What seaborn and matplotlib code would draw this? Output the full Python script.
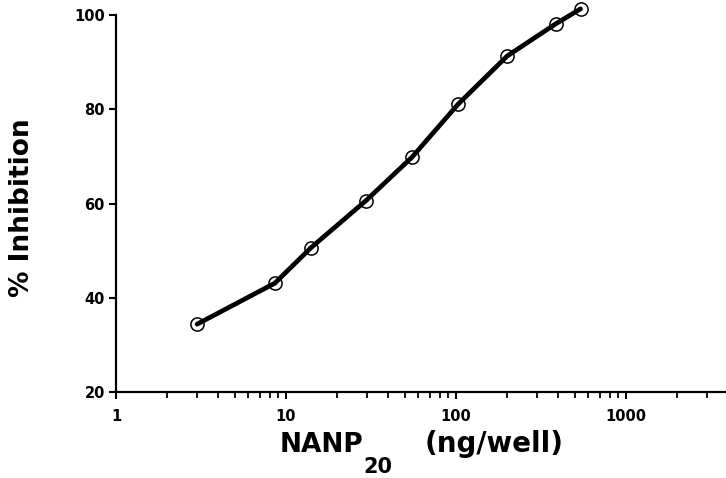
import matplotlib
matplotlib.use("Agg")
import pandas as pd
import matplotlib.pyplot as plt
import seaborn as sns
from matplotlib.ticker import FixedLocator, FixedFormatter, LogLocator, NullFormatter

# data
dose = [3.0, 8.6, 14, 29.5, 55, 103, 200, 385, 540]          # ng/well
inhibition = [34.4, 43.1, 50.6, 60.6, 69.8, 81.1, 91.3, 98.1, 101.3]  # %
x_ticks = [1, 10, 100, 1000]
x_ticklabels = ["1", "10", "100", "1000"]
y_ticks = [20, 40, 60, 80, 100]

df = pd.DataFrame({"dose": dose, "inhibition": inhibition})

sns.set_theme(style="ticks")
plt.rcParams["font.family"] = ["DejaVu Sans"]

W, H = 726, 478
fig = plt.figure(figsize=(W / 100, H / 100), dpi=100)
ax = fig.add_axes([0.1598, 0.1799, 0.8388, 0.7887])

# open circles underneath, heavy line on top
sns.scatterplot(data=df, x="dose", y="inhibition", ax=ax, s=90,
                facecolor="white", edgecolor="black", linewidth=1.1,
                zorder=2, clip_on=False)
sns.lineplot(data=df, x="dose", y="inhibition", ax=ax, color="black",
             linewidth=3.4, zorder=3, clip_on=False,
             solid_capstyle="round", solid_joinstyle="round")

ax.set_xscale("log")
ax.set_xlim(1, 3820)
ax.set_ylim(20, 100)
ax.xaxis.set_major_locator(FixedLocator(x_ticks))
ax.xaxis.set_major_formatter(FixedFormatter(x_ticklabels))
ax.xaxis.set_minor_locator(LogLocator(base=10, subs=range(2, 10)))
ax.xaxis.set_minor_formatter(NullFormatter())
ax.set_yticks(y_ticks)

sns.despine(ax=ax)
for s in ["left", "bottom"]:
    ax.spines[s].set_linewidth(1.6)
    ax.spines[s].set_color("black")

ax.tick_params(axis="both", which="major", length=5, width=1.5, color="black",
               labelsize=10.5, labelcolor="black")
ax.tick_params(axis="x", which="major", pad=7)
ax.tick_params(axis="y", which="major", pad=3)
ax.tick_params(axis="x", which="minor", length=4, width=1.3, color="black")
for lab in ax.get_xticklabels() + ax.get_yticklabels():
    lab.set_fontweight("bold")

# x label built from pieces so the subscript can sit low and large
ax.set_xlabel("")
fig.text(280 / W, 1 - 452 / H, "NANP", ha="left", va="baseline",
         fontsize=19, fontweight="bold", color="black")
fig.text(363 / W, 1 - 473 / H, "20", ha="left", va="baseline",
         fontsize=15, fontweight="bold", color="black")
fig.text(425 / W, 1 - 452 / H, "(ng/well)", ha="left", va="baseline",
         fontsize=20, fontweight="bold", color="black")

ax.set_ylabel("% Inhibition", fontsize=19, fontweight="bold", color="black")
ax.yaxis.set_label_coords(-0.133, 0.49)

fig.savefig("out.png", dpi=100)
